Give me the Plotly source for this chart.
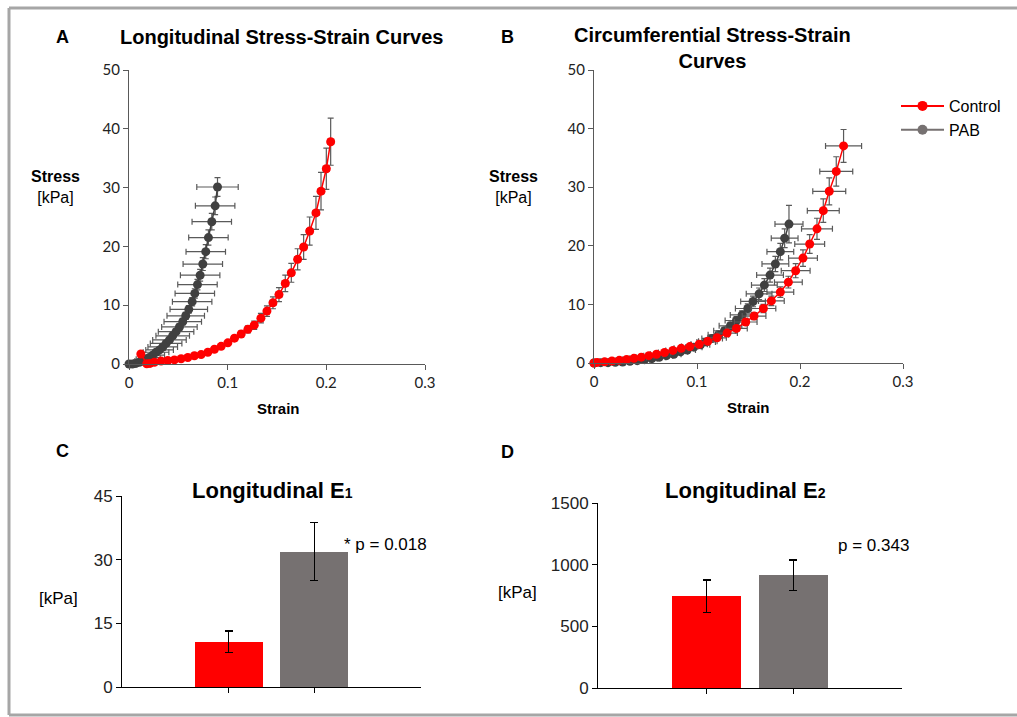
import plotly.graph_objects as go

W, H = 1017, 717

# ---------------- Data ----------------
# Panel A: Longitudinal stress-strain
a_ctrl_strain = [0.012, 0.018, 0.0213, 0.0257, 0.0325, 0.0393, 0.046, 0.0528, 0.0596, 0.0663,
                 0.0731, 0.0799, 0.0866, 0.0934, 0.1002, 0.1069, 0.1137, 0.1205, 0.1269, 0.1337,
                 0.1398, 0.1459, 0.152, 0.1584, 0.1645, 0.1709, 0.177, 0.1831, 0.1895, 0.1946,
                 0.200, 0.2044]
a_ctrl_stress = [1.7, 0.05, 0.1, 0.3, 0.5, 0.6, 0.7, 0.9, 1.1, 1.4,
                 1.6, 2.0, 2.5, 3.0, 3.6, 4.4, 5.1, 5.9, 6.6, 7.8,
                 9.0, 10.4, 11.8, 13.7, 15.5, 17.8, 19.9, 22.6, 25.7, 29.4,
                 33.2, 37.8]
a_ctrl_xerr = [0.001, 0.001, 0.001, 0.001, 0.001, 0.001, 0.001, 0.0015, 0.0015, 0.0015,
               0.0015, 0.002, 0.002, 0.002, 0.002, 0.002, 0.002, 0.0025, 0.0025, 0.0025,
               0.0025, 0.003, 0.003, 0.003, 0.003, 0.003, 0.003, 0.003, 0.003, 0.003,
               0.003, 0.003]
a_ctrl_yerr = [0.1, 0.1, 0.1, 0.1, 0.1, 0.15, 0.15, 0.2, 0.2, 0.2,
               0.25, 0.3, 0.3, 0.35, 0.4, 0.45, 0.5, 0.6, 0.7, 0.8,
               0.9, 1.0, 1.2, 1.4, 1.6, 1.8, 2.1, 2.4, 2.8, 3.2,
               3.5, 4.0]

a_pab_strain = [0, 0.0034, 0.007, 0.0105, 0.014, 0.0173, 0.0206, 0.024, 0.0274, 0.031,
                0.0342, 0.0376, 0.041, 0.0443, 0.0477, 0.0511, 0.0545, 0.0575, 0.0606, 0.064,
                0.0667, 0.0694, 0.0721, 0.0748, 0.0778, 0.0805, 0.0839, 0.0873, 0.0897]
a_pab_stress = [0, 0.0, 0.1, 0.3, 0.5, 0.8, 1.1, 1.5, 2.0, 2.4,
                2.9, 3.5, 4.1, 4.8, 5.5, 6.3, 7.2, 8.2, 9.3, 10.6,
                12.0, 13.5, 15.1, 17.0, 19.1, 21.5, 24.2, 26.9, 30.1]
a_pab_xerr = [0, 0.002, 0.004, 0.006, 0.008, 0.01, 0.011, 0.012, 0.013, 0.014,
              0.015, 0.016, 0.017, 0.017, 0.018, 0.018, 0.019, 0.019, 0.019, 0.02,
              0.02, 0.02, 0.02, 0.02, 0.02, 0.02, 0.02, 0.02, 0.021]
a_pab_yerr = [0, 0.05, 0.05, 0.1, 0.1, 0.15, 0.15, 0.2, 0.2, 0.25,
              0.3, 0.3, 0.35, 0.4, 0.45, 0.5, 0.55, 0.6, 0.65, 0.7,
              0.8, 0.9, 1.0, 1.1, 1.2, 1.3, 1.4, 1.5, 1.6]

# Panel B: Circumferential stress-strain
b_ctrl_strain = [0, 0.003, 0.0103, 0.0174, 0.0246, 0.0317, 0.0388, 0.0459, 0.0533, 0.0607,
                 0.0685, 0.0766, 0.0847, 0.093, 0.1021, 0.1105, 0.1195, 0.1292, 0.1383, 0.1473,
                 0.1554, 0.1645, 0.1722, 0.1809, 0.1887, 0.1958, 0.2029, 0.2094, 0.2165, 0.2226,
                 0.2284, 0.2352, 0.2423]
b_ctrl_stress = [0, 0.1, 0.2, 0.35, 0.45, 0.6, 0.8, 1.0, 1.25, 1.5,
                 1.8, 2.15, 2.5, 2.8, 3.2, 3.7, 4.3, 5.1, 5.9, 7.0,
                 8.0, 9.3, 10.6, 12.1, 13.8, 15.75, 17.9, 20.3, 22.9, 26.0,
                 29.3, 32.7, 37.05]
b_ctrl_xerr = [0.001, 0.002, 0.002, 0.003, 0.003, 0.004, 0.004, 0.005, 0.005, 0.006,
               0.006, 0.007, 0.007, 0.008, 0.008, 0.009, 0.009, 0.01, 0.0105, 0.011,
               0.0115, 0.012, 0.0125, 0.013, 0.0135, 0.014, 0.014, 0.0145, 0.015, 0.0155,
               0.016, 0.016, 0.0175]
b_ctrl_yerr = [0, 0.05, 0.05, 0.05, 0.1, 0.1, 0.1, 0.15, 0.15, 0.2,
               0.2, 0.25, 0.25, 0.3, 0.3, 0.35, 0.4, 0.45, 0.5, 0.55,
               0.6, 0.7, 0.8, 0.9, 1.0, 1.2, 1.4, 1.6, 1.8, 2.0,
               2.3, 2.5, 2.8]

b_pab_strain = [0, 0.0065, 0.0136, 0.0207, 0.0278, 0.0349, 0.042, 0.0491, 0.0562, 0.0633,
                0.0704, 0.0775, 0.084, 0.0905, 0.0969, 0.1034, 0.1089, 0.1147, 0.1208, 0.1267,
                0.1325, 0.1383, 0.1438, 0.1493, 0.1544, 0.1603, 0.1654, 0.1709, 0.1761, 0.1809,
                0.1851, 0.1893]
b_pab_stress = [0, 0.06, 0.06, 0.11, 0.17, 0.28, 0.4, 0.57, 0.74, 0.96,
                1.25, 1.5, 1.9, 2.2, 2.7, 3.1, 3.6, 4.2, 4.8, 5.5,
                6.35, 7.25, 8.2, 9.3, 10.5, 11.8, 13.3, 15.0, 16.9, 19.0,
                21.3, 23.7]
b_pab_xerr = [0, 0.002, 0.002, 0.003, 0.003, 0.004, 0.004, 0.005, 0.005, 0.006,
              0.006, 0.007, 0.007, 0.008, 0.008, 0.009, 0.009, 0.01, 0.01, 0.0105,
              0.011, 0.011, 0.0115, 0.012, 0.012, 0.0125, 0.0125, 0.013, 0.013, 0.013,
              0.013, 0.0136]
b_pab_yerr = [0, 0.05, 0.05, 0.05, 0.1, 0.1, 0.1, 0.15, 0.15, 0.2,
              0.2, 0.25, 0.25, 0.3, 0.3, 0.35, 0.4, 0.45, 0.5, 0.55,
              0.6, 0.65, 0.7, 0.8, 0.9, 1.0, 1.1, 1.2, 1.3, 1.4,
              1.6, 3.2]

# Panels C and D: moduli
groups = ["Control", "PAB"]
e1_values = [10.7, 31.9]
e1_errors = [2.5, 6.8]
e2_values = [745, 915]
e2_errors = [130, 122]

# ---------------- Style ----------------
RED = "#ff0000"
DARKGRAY = "#404040"
BARGRAY = "#767171"
ERRGRAY = "#5a5a5a"
ARIAL = "Liberation Sans, Arial, sans-serif"
TICKFONT = "Lato, Open Sans, sans-serif"


def px(x):
    return x / W


def py(y):
    return 1 - y / H


fig = go.Figure()


def curve(xs, ys, xe, ye, color, xa, ya, msize=9):
    fig.add_trace(go.Scatter(
        x=xs, y=ys, xaxis=xa, yaxis=ya, mode="lines+markers",
        line=dict(color=color, width=1.5),
        marker=dict(color=color, size=msize),
        error_x=dict(type="data", array=xe, color=ERRGRAY, thickness=1.2, width=3),
        error_y=dict(type="data", array=ye, color=ERRGRAY, thickness=1.2, width=3),
        showlegend=False, cliponaxis=False, hoverinfo="skip"))


curve(a_pab_strain, a_pab_stress, a_pab_xerr, a_pab_yerr, DARKGRAY, "x", "y")
curve(a_ctrl_strain, a_ctrl_stress, a_ctrl_xerr, a_ctrl_yerr, RED, "x", "y")
curve(b_pab_strain, b_pab_stress, b_pab_xerr, b_pab_yerr, DARKGRAY, "x2", "y2")
curve(b_ctrl_strain, b_ctrl_stress, b_ctrl_xerr, b_ctrl_yerr, RED, "x2", "y2")

# Legend entries
fig.add_trace(go.Scatter(x=[None], y=[None], mode="lines+markers", name="Control",
                         line=dict(color=RED, width=2), marker=dict(color=RED, size=10),
                         xaxis="x2", yaxis="y2"))
fig.add_trace(go.Scatter(x=[None], y=[None], mode="lines+markers", name="PAB",
                         line=dict(color=BARGRAY, width=2), marker=dict(color=BARGRAY, size=10),
                         xaxis="x2", yaxis="y2"))

# Bars
for vals, errs, xa, ya in [(e1_values, e1_errors, "x3", "y3"), (e2_values, e2_errors, "x4", "y4")]:
    fig.add_trace(go.Bar(
        x=groups, y=vals, xaxis=xa, yaxis=ya, width=0.8,
        marker=dict(color=[RED, BARGRAY], line=dict(width=0)),
        error_y=dict(type="data", array=errs, color="#000000", thickness=1.3, width=4),
        showlegend=False, hoverinfo="skip"))

line_axis = dict(showline=True, linecolor="#595959", linewidth=1.2, ticks="outside",
                 ticklen=5, tickcolor="#595959", showgrid=False, zeroline=False,
                 automargin=False,
                 tickfont=dict(family=TICKFONT, size=15, color="#222222"))
bar_y = dict(showline=True, linecolor="#000000", linewidth=1, ticks="outside",
             ticklen=5, tickcolor="#000000", showgrid=False, zeroline=False,
             automargin=False,
             tickfont=dict(family=ARIAL, size=17, color="#222222"))
bar_x = dict(showline=True, linecolor="#000000", linewidth=1, ticks="outside",
             ticklen=5, tickcolor="#000000", showgrid=False, zeroline=False,
             automargin=False,
             range=[-1.25, 2.25], type="category", showticklabels=False)

fig.update_layout(
    width=W, height=H, margin=dict(l=0, r=0, t=0, b=0, pad=0, autoexpand=False),
    paper_bgcolor="white", plot_bgcolor="white",
    bargap=0,
    xaxis=dict(domain=[px(129), px(425)], range=[0, 0.3], dtick=0.1, anchor="y", **line_axis),
    yaxis=dict(domain=[py(364), py(70)], range=[0, 50], dtick=10, anchor="x", **line_axis),
    xaxis2=dict(domain=[px(594), px(903)], range=[0, 0.3], dtick=0.1, anchor="y2", **line_axis),
    yaxis2=dict(domain=[py(363), py(70)], range=[0, 50], dtick=10, anchor="x2", **line_axis),
    xaxis3=dict(domain=[px(122), px(421)], anchor="y3", **bar_x),
    yaxis3=dict(domain=[py(687), py(496)], range=[0, 45], tickvals=[0, 15, 30, 45], anchor="x3", **bar_y),
    xaxis4=dict(domain=[px(598), px(902)], anchor="y4", **bar_x),
    yaxis4=dict(domain=[py(688), py(503)], range=[0, 1500], tickvals=[0, 500, 1000, 1500], anchor="x4", **bar_y),
    legend=dict(x=px(896), y=py(89), xanchor="left", yanchor="top",
                font=dict(family=ARIAL, size=16, color="#000000"),
                bgcolor="rgba(0,0,0,0)", tracegroupgap=0, itemwidth=43),
)


def ann(x, y, text, size=16, align="center", xanchor="center"):
    fig.add_annotation(x=px(x), y=py(y), xref="paper", yref="paper", text=text,
                       showarrow=False, xanchor=xanchor, yanchor="middle", align=align,
                       font=dict(family=ARIAL, size=size, color="#000000"))


# Panel letters
ann(62, 37, "<b>A</b>", 18)
ann(507, 37, "<b>B</b>", 18)
ann(62, 451, "<b>C</b>", 18)
ann(507, 452, "<b>D</b>", 18)

# Titles
ann(281, 37, "<b>Longitudinal Stress-Strain Curves</b>", 20)
ann(712, 48, "<b>Circumferential Stress-Strain<br>Curves</b>", 20)
ann(272, 490, "<b>Longitudinal E<span style='font-size:14px'>1</span></b>", 22)
ann(745, 491, "<b>Longitudinal E<span style='font-size:14px'>2</span></b>", 22)

# Axis titles
ann(55, 187, "<b>Stress</b><br>[kPa]", 16)
ann(278, 408, "<b>Strain</b>", 15)
ann(513, 187, "<b>Stress</b><br>[kPa]", 16)
ann(748, 407, "<b>Strain</b>", 15)
ann(58, 598, "[kPa]", 17)
ann(517, 592, "[kPa]", 17)

# p-values
ann(385, 544, "* p = 0.018", 17)
ann(873, 545, "p = 0.343", 17)

# Outer frame
for (x0, y0, x1, y1) in [(9, 8, 9, 715), (9, 8, 1017, 8), (9, 715, 1017, 715)]:
    fig.add_shape(type="line", xref="paper", yref="paper",
                  x0=px(x0), y0=py(y0), x1=px(x1), y1=py(y1),
                  line=dict(color="#a6a6a6", width=3))

fig.write_html("out.html",
               post_script="document.body.style.margin='0';document.body.style.overflow='hidden';")
